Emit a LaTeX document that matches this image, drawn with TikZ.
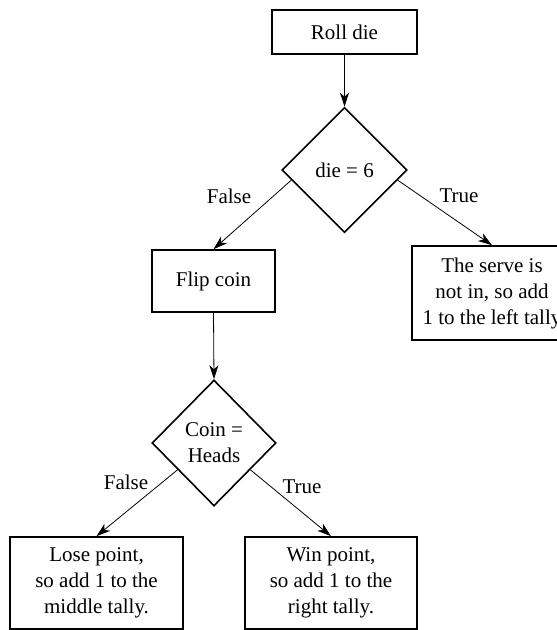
\documentclass[tikz,border=0pt]{standalone}
\usepackage{fontspec}
\setmainfont{Liberation Serif}
\usetikzlibrary{shapes.geometric,arrows.meta,calc}
\begin{document}
\begin{tikzpicture}[x=1pt,y=-1pt,
  box/.style={draw, line width=1.6pt, rectangle, align=center, inner sep=0pt,
    font=\fontsize{21}{26}\selectfont},
  dia/.style={draw, line width=1.6pt, diamond, align=center, inner sep=0pt,
    font=\fontsize{21}{26}\selectfont},
  lbl/.style={font=\fontsize{21}{26}\selectfont, inner sep=0pt},
  arr/.style={line width=0.8pt, -{Stealth[length=14pt,width=9pt,inset=4pt]}}]
\useasboundingbox (0,0) rectangle (557,630);
\node[box, minimum width=145pt, minimum height=44pt] (roll) at (344.5,32) {Roll die};
\node[dia, minimum width=125pt, minimum height=125pt] (die) at (344.5,170) {die = 6};
\node[box, minimum width=123pt, minimum height=62pt] (flip) at (213.5,281) {Flip coin};
\node[box, minimum width=160pt, minimum height=94pt] (serve) at (492,293) {The serve is\\not in, so add\\1 to the left tally};
\node[dia, minimum width=124pt, minimum height=126pt] (coin) at (214,443) {Coin =\\Heads};
\node[box, minimum width=173pt, minimum height=92pt] (lose) at (96.5,583) {Lose point,\\so add 1 to the\\middle tally.};
\node[box, minimum width=172pt, minimum height=92pt] (win) at (331,583) {Win point,\\so add 1 to the\\right tally.};
\draw[arr] (roll.south) -- (die.north);
\draw[arr] ($(die.west)!0.16!(die.south)$) -- (flip.north);
\draw[arr] ($(die.east)!0.16!(die.south)$) -- (serve.north);
\draw[arr] (flip.south) -- (coin.north);
\draw[arr] ($(coin.west)!0.42!(coin.south)$) -- (lose.north);
\draw[arr] ($(coin.east)!0.42!(coin.south)$) -- (win.north);
\node[lbl] (f1) at (229,196) {False};
\node[lbl] (t1) at (459,196) {True};
\node[lbl] (f2) at (126,482) {False};
\node[lbl] (t2) at (302,487) {True};
\end{tikzpicture}
\end{document}
